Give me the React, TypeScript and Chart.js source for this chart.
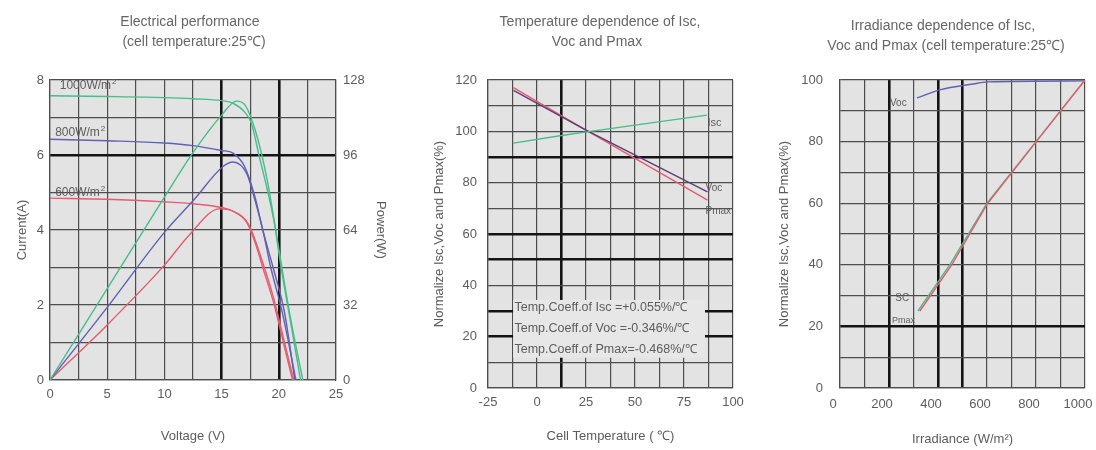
import React, { useEffect, useRef } from 'react';
import { Chart, registerables } from 'chart.js';
Chart.register(...registerables);

const FONT = '"Liberation Sans", Arial, sans-serif';
const TEXT = '#5c5c5c';
const GRID = '#4d4d4d';
const THICK = '#141414';
const PLOT_BG = '#e3e3e4';
const GREEN = 'rgb(72,188,138)';
const BLUE = 'rgb(98,96,178)';
const RED = 'rgb(228,92,112)';
const DARKV = 'rgb(96,62,110)';

// ---------- Panel 1: Electrical performance ----------
const iv1000Voltage = [0, 5, 10, 12.5, 15, 16, 17, 17.6, 18.3, 19, 19.6, 20.2, 21, 21.9];
const iv1000Current = [7.58, 7.56, 7.53, 7.5, 7.45, 7.38, 7.15, 6.85, 5.95, 5.07, 4.2, 3.0, 1.6, 0];
const pv1000Voltage = [0, 5, 10, 12.5, 15, 16.3, 17, 18, 19, 20, 21, 22.1];
const pv1000Power = [0, 39, 78, 97, 113, 119, 117.6, 105.6, 85, 56, 27, 0];

const iv800Voltage = [0, 5, 10, 12.5, 15, 16, 17, 17.9, 18.6, 19.5, 20.5, 21.4];
const iv800Current = [6.42, 6.38, 6.32, 6.25, 6.12, 6.05, 5.7, 4.9, 4.0, 3.0, 1.8, 0];
const pv800Voltage = [0, 5, 10, 12.6, 15.1, 16, 17.2, 17.9, 18.6, 19.3, 20.3, 21.5];
const pv800Power = [0, 31, 63, 77, 91, 93, 88, 77, 64, 48, 29, 0];

const iv600Voltage = [0, 5, 10, 12.5, 15, 16, 17.2, 18, 18.6, 19.6, 20.4, 21.2];
const iv600Current = [4.85, 4.82, 4.75, 4.7, 4.6, 4.5, 4.2, 3.6, 3.0, 2.0, 1.0, 0];
const pv600Voltage = [0, 5, 10, 12.2, 14.8, 16, 17.4, 18.6, 19.6, 20.4, 21.3];
const pv600Power = [0, 23.5, 49, 62, 73, 72, 66, 50, 34, 18, 0];

const voltageTickLabels = ['0', '5', '10', '15', '20', '25'];
const currentTickLabels = ['0', '2', '4', '6', '8'];
const powerTickLabels = ['0', '32', '64', '96', '128'];

// ---------- Panel 2: Temperature dependence ----------
const tempIscX = [-12, 11.7, 25.5, 62.8, 86.7];
const tempIscY = [95.4, 98.3, 99.8, 103.8, 106.3];
const tempVocX = [-12, 25, 87];
const tempVocY = [116, 100.5, 76.4];
const tempPmaxX = [-12, 25, 87];
const tempPmaxY = [117, 100.5, 73.2];
const coeffLines = [
  'Temp.Coeff.of Isc =+0.055%/\u2103',
  'Temp.Coeff.of Voc =-0.346%/\u2103',
  'Temp.Coeff.of Pmax=-0.468%/\u2103',
];

// ---------- Panel 3: Irradiance dependence ----------
const irrIscX = [318, 448, 600, 800, 1000];
const irrIscY = [25, 40, 60, 80, 100];
const irrPmaxX = [326, 456, 603, 801, 1000];
const irrPmaxY = [25, 40, 60, 80, 100];
const irrVocX = [314, 408, 543, 604, 1000];
const irrVocY = [94.2, 96.8, 98.7, 99.4, 99.7];

const pts = (xs: number[], ys: number[]) => xs.map((x, i) => ({ x, y: ys[i] }));

const bgPlugin = {
  id: 'plotBg',
  beforeDraw(chart: any) {
    const { ctx, chartArea: a } = chart;
    ctx.save();
    ctx.fillStyle = PLOT_BG;
    ctx.fillRect(a.left, a.top, a.right - a.left, a.bottom - a.top);
    ctx.restore();
  },
};

type Note = { text: string; x: number; y: number; size?: number; sup?: string };

const makeNotesPlugin = (notes: Note[], yId: string, box?: { x0: number; x1: number; y0: number; y1: number; lines: string[]; lineY: number[]; textX: number }) => ({
  id: 'notes',
  beforeDatasetsDraw(chart: any) {
    if (!box) return;
    const { ctx, scales } = chart;
    const xs = scales.x;
    const ys = scales[yId];
    const l = xs.getPixelForValue(box.x0);
    const r = xs.getPixelForValue(box.x1);
    const t = ys.getPixelForValue(box.y0);
    const b = ys.getPixelForValue(box.y1);
    ctx.save();
    ctx.fillStyle = '#e7e7e8';
    ctx.fillRect(l, t, r - l, b - t);
    ctx.fillStyle = TEXT;
    ctx.font = `12.5px ${FONT}`;
    ctx.textAlign = 'left';
    ctx.textBaseline = 'middle';
    box.lines.forEach((s, i) => {
      ctx.fillText(s, xs.getPixelForValue(box.textX), ys.getPixelForValue(box.lineY[i]));
    });
    ctx.restore();
  },
  afterDatasetsDraw(chart: any) {
    const { ctx, scales } = chart;
    const xs = scales.x;
    const ys = scales[yId];
    ctx.save();
    ctx.fillStyle = TEXT;
    ctx.textAlign = 'left';
    ctx.textBaseline = 'middle';
    for (const n of notes) {
      const size = n.size || 11;
      ctx.font = `${size}px ${FONT}`;
      const px = xs.getPixelForValue(n.x);
      const py = ys.getPixelForValue(n.y);
      ctx.fillText(n.text, px, py);
      if (n.sup) {
        const w = ctx.measureText(n.text).width;
        ctx.font = `${Math.round(size * 0.7)}px ${FONT}`;
        ctx.fillText(n.sup, px + w + 1, py - size * 0.35);
      }
    }
    ctx.restore();
  },
});

const gridOpts = (thick: number[]) => ({
  drawTicks: false,
  color: (c: any) => (c.tick && thick.includes(c.tick.value) ? THICK : GRID),
  lineWidth: (c: any) => (c.tick && thick.includes(c.tick.value) ? 2.6 : 1.2),
});

const tickFont = { family: FONT, size: 13 };
const titleFont = { family: FONT, size: 13 };

const lineDs = (label: string, data: any[], color: string, yAxisID = 'y', smooth = true) => ({
  label,
  data,
  borderColor: color,
  backgroundColor: color,
  borderWidth: 1.4,
  pointRadius: 0,
  fill: false,
  yAxisID,
  ...(smooth ? { cubicInterpolationMode: 'monotone' as const } : { tension: 0 }),
});

const baseOptions = (padding: any) => ({
  responsive: false,
  animation: false as const,
  layout: { padding },
  plugins: { legend: { display: false }, tooltip: { enabled: false }, title: { display: false } },
});

function config1(): any {
  return {
    type: 'line',
    data: {
      datasets: [
        lineDs('I-V 1000', pts(iv1000Voltage, iv1000Current), GREEN),
        lineDs('P-V 1000', pts(pv1000Voltage, pv1000Power), GREEN, 'y2'),
        lineDs('I-V 800', pts(iv800Voltage, iv800Current), BLUE),
        lineDs('P-V 800', pts(pv800Voltage, pv800Power), BLUE, 'y2'),
        lineDs('I-V 600', pts(iv600Voltage, iv600Current), RED),
        lineDs('P-V 600', pts(pv600Voltage, pv600Power), RED, 'y2'),
      ],
    },
    options: {
      ...baseOptions({ top: 80, left: 0, right: 0, bottom: 0 }),
      scales: {
        x: {
          type: 'linear',
          min: 0,
          max: 25,
          afterFit: (s: any) => { s.height = 70; s.paddingLeft = 0; s.paddingRight = 0; },
          grid: gridOpts([15, 20]),
          border: { color: GRID, width: 1.2 },
          ticks: {
            stepSize: 2.5,
            autoSkip: false,
            maxRotation: 0,
            padding: 7,
            color: TEXT,
            font: tickFont,
            callback: (v: number) => (voltageTickLabels.includes(String(v)) ? String(v) : ''),
          },
          title: { display: true, text: 'Voltage (V)', color: TEXT, font: titleFont, padding: { top: 0, bottom: 6 } },
        },
        y: {
          type: 'linear',
          position: 'left',
          min: 0,
          max: 8,
          afterFit: (s: any) => { s.width = 50; },
          grid: gridOpts([6]),
          border: { color: GRID, width: 1.2 },
          ticks: {
            stepSize: 1,
            autoSkip: false,
            padding: 6,
            color: TEXT,
            font: tickFont,
            callback: (v: number) => (currentTickLabels.includes(String(v)) ? String(v) : ''),
          },
          title: { display: true, text: 'Current(A)', color: TEXT, font: titleFont, padding: { top: 15, bottom: 0 } },
        },
        y2: {
          type: 'linear',
          position: 'right',
          min: 0,
          max: 128,
          afterFit: (s: any) => { s.width = 64; },
          grid: { display: false, drawTicks: false },
          border: { color: GRID, width: 1.2 },
          ticks: {
            stepSize: 32,
            autoSkip: false,
            padding: 7,
            color: TEXT,
            font: tickFont,
            callback: (v: number) => (powerTickLabels.includes(String(v)) ? String(v) : ''),
          },
          title: { display: true, text: 'Power(W)', color: TEXT, font: titleFont, padding: { top: 12, bottom: 0 } },
        },
      },
    },
    plugins: [
      bgPlugin,
      makeNotesPlugin(
        [
          { text: '1000W/m', sup: '2', x: 0.85, y: 7.85, size: 12 },
          { text: '800W/m', sup: '2', x: 0.45, y: 6.6, size: 12 },
          { text: '600W/m', sup: '2', x: 0.45, y: 4.99, size: 12 },
        ],
        'y'
      ),
    ],
  };
}

function config2(): any {
  return {
    type: 'line',
    data: {
      datasets: [
        lineDs('Isc', pts(tempIscX, tempIscY), GREEN, 'y', false),
        lineDs('Voc', pts(tempVocX, tempVocY), DARKV, 'y', false),
        lineDs('Pmax', pts(tempPmaxX, tempPmaxY), RED, 'y', false),
      ],
    },
    options: {
      ...baseOptions({ top: 80, left: 0, right: 12, bottom: 0 }),
      scales: {
        x: {
          type: 'linear',
          min: -25,
          max: 100,
          afterFit: (s: any) => { s.height = 62; s.paddingLeft = 0; s.paddingRight = 0; },
          grid: gridOpts([12.5]),
          border: { color: GRID, width: 1.2 },
          ticks: {
            stepSize: 12.5,
            autoSkip: false,
            maxRotation: 0,
            padding: 7,
            color: TEXT,
            font: tickFont,
            callback: (v: number) => (v % 25 === 0 ? String(v) : ''),
          },
          title: { display: true, text: 'Cell Temperature ( \u2103)', color: TEXT, font: titleFont, padding: { top: 0, bottom: 6 } },
        },
        y: {
          type: 'linear',
          min: 0,
          max: 120,
          afterFit: (s: any) => { s.width = 88; },
          grid: gridOpts([90, 60, 50, 30, 20]),
          border: { color: GRID, width: 1.2 },
          ticks: {
            stepSize: 10,
            autoSkip: false,
            padding: 11,
            color: TEXT,
            font: tickFont,
            callback: (v: number) => (v % 20 === 0 ? String(v) : ''),
          },
          title: { display: true, text: 'Normalize Isc,Voc and Pmax(%)', color: TEXT, font: titleFont, padding: { top: 32, bottom: 0 } },
        },
      },
    },
    plugins: [
      bgPlugin,
      makeNotesPlugin(
        [
          { text: 'Isc', x: 87, y: 103.2, size: 11 },
          { text: 'Voc', x: 86, y: 78, size: 10 },
          { text: 'Pmax', x: 86, y: 69, size: 10 },
        ],
        'y',
        { x0: -12.2, x1: 85.7, y0: 34.3, y1: 11.8, lines: coeffLines, lineY: [31.4, 23, 14.8], textX: -11.5 }
      ),
    ],
  };
}

function config3(): any {
  return {
    type: 'line',
    data: {
      datasets: [
        lineDs('Pmax', pts(irrPmaxX, irrPmaxY), RED, 'y', false),
        lineDs('Isc', pts(irrIscX, irrIscY), GREEN, 'y', false),
        lineDs('Voc', pts(irrVocX, irrVocY), BLUE),
      ],
    },
    options: {
      ...baseOptions({ top: 80, left: 0, right: 11, bottom: 0 }),
      scales: {
        x: {
          type: 'linear',
          min: 0,
          max: 1000,
          afterFit: (s: any) => { s.height = 62; s.paddingLeft = 0; s.paddingRight = 0; },
          grid: gridOpts([200, 400, 500]),
          border: { color: GRID, width: 1.2 },
          ticks: {
            stepSize: 100,
            autoSkip: false,
            maxRotation: 0,
            padding: 9,
            labelOffset: -7,
            color: TEXT,
            font: tickFont,
            callback: (v: number) => (v % 200 === 0 ? String(v) : ''),
          },
          title: { display: true, text: 'Irradiance (W/m\u00b2)', color: TEXT, font: titleFont, padding: { top: 0, bottom: 3 } },
        },
        y: {
          type: 'linear',
          min: 0,
          max: 100,
          afterFit: (s: any) => { s.width = 95; },
          grid: gridOpts([20]),
          border: { color: GRID, width: 1.2 },
          ticks: {
            stepSize: 10,
            autoSkip: false,
            padding: 17,
            color: TEXT,
            font: tickFont,
            callback: (v: number) => (v % 20 === 0 ? String(v) : ''),
          },
          title: { display: true, text: 'Normalize Isc,Voc and Pmax(%)', color: TEXT, font: titleFont, padding: { top: 32, bottom: 0 } },
        },
      },
    },
    plugins: [
      bgPlugin,
      makeNotesPlugin(
        [
          { text: 'Voc', x: 204, y: 92.5, size: 10 },
          { text: 'SC', x: 226, y: 29.2, size: 10 },
          { text: 'Pmax', x: 212, y: 22, size: 9 },
        ],
        'y'
      ),
    ],
  };
}

function ChartCanvas({ make, left, width }: { make: () => any; left: number; width: number }) {
  const ref = useRef<HTMLCanvasElement>(null);
  useEffect(() => {
    const chart = new Chart(ref.current as HTMLCanvasElement, make());
    return () => chart.destroy();
  }, []);
  return (
    <canvas
      ref={ref}
      width={width}
      height={450}
      style={{ position: 'absolute', left, top: 0, width, height: 450 }}
    />
  );
}

const titleStyle = (cx: number, cy: number): React.CSSProperties => ({
  position: 'absolute',
  left: cx - 200,
  top: cy - 10,
  width: 400,
  height: 20,
  lineHeight: '20px',
  textAlign: 'center',
  fontFamily: FONT,
  fontSize: 14,
  color: '#666',
  whiteSpace: 'nowrap',
});

export default function App() {
  return (
    <div style={{ position: 'absolute', left: 0, top: 0, width: 1096, height: 450, background: '#fff', overflow: 'hidden' }}>
      <ChartCanvas make={config1} left={0} width={400} />
      <ChartCanvas make={config2} left={400} width={345} />
      <ChartCanvas make={config3} left={745} width={351} />
      <div style={titleStyle(190, 21)}>Electrical performance</div>
      <div style={titleStyle(194, 41)}>(cell temperature:25℃)</div>
      <div style={titleStyle(600, 21)}>Temperature dependence of Isc,</div>
      <div style={titleStyle(597, 41)}>Voc and Pmax</div>
      <div style={titleStyle(943, 25)}>Irradiance dependence of Isc,</div>
      <div style={titleStyle(946, 45)}>Voc and Pmax (cell temperature:25℃)</div>
    </div>
  );
}
